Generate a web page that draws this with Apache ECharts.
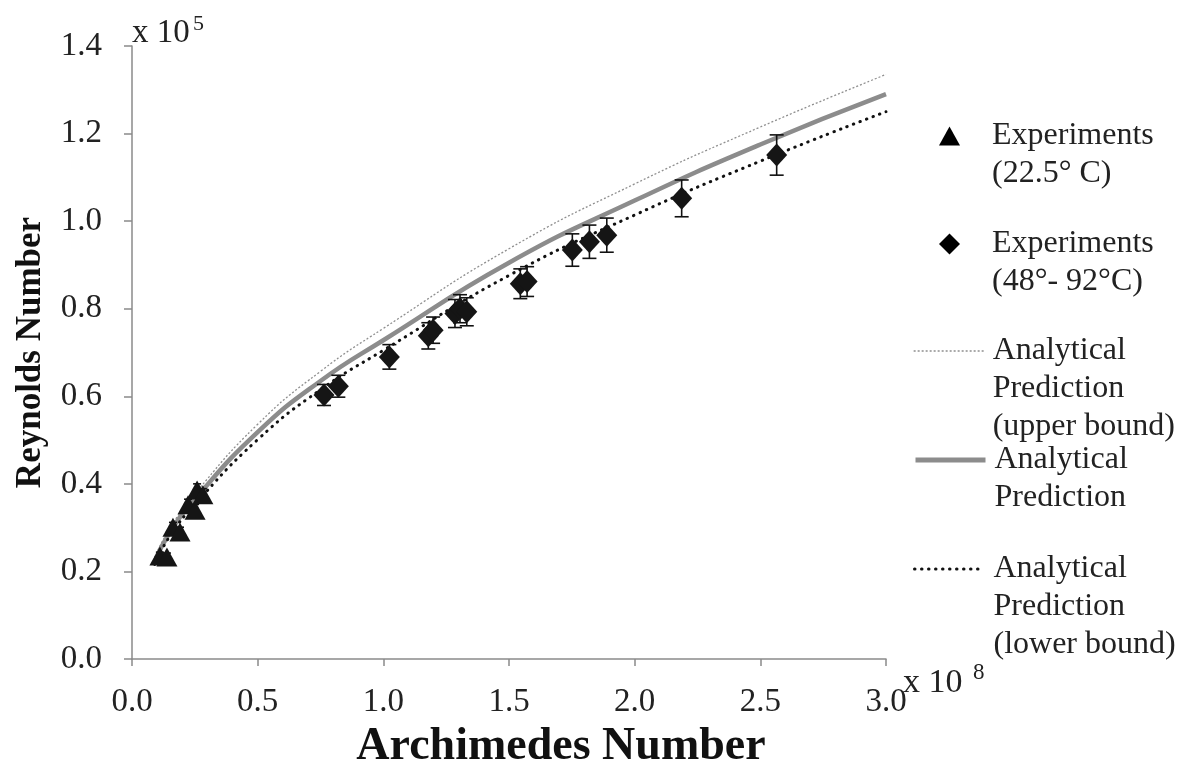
<!DOCTYPE html>
<html>
<head>
<meta charset="utf-8">
<script src="https://cdn.jsdelivr.net/npm/echarts@6/dist/echarts.min.js"></script>
<style>
  html, body { margin: 0; padding: 0; background: #fff; }
  #main { width: 1186px; height: 763px; }
</style>
</head>
<body>
<div id="main"></div>
<script>
// values (x in 1e8, y in 1e5)
var triX = [0.111, 0.139, 0.163, 0.191, 0.223, 0.251, 0.259, 0.282];
var triY = [0.235, 0.233, 0.301, 0.290, 0.352, 0.340, 0.386, 0.375];
var triErr = [0.009, 0.009, 0.011, 0.011, 0.013, 0.013, 0.014, 0.014];

var diaX = [0.764, 0.821, 1.024, 1.179, 1.198, 1.285, 1.305, 1.332, 1.545, 1.572, 1.752, 1.820, 1.889, 2.187, 2.565];
var diaY = [0.603, 0.623, 0.690, 0.738, 0.751, 0.789, 0.800, 0.793, 0.857, 0.862, 0.934, 0.953, 0.968, 1.052, 1.151];
var diaErr = [0.024, 0.025, 0.028, 0.030, 0.030, 0.032, 0.032, 0.032, 0.034, 0.034, 0.037, 0.038, 0.039, 0.042, 0.046];

var curveX = [0.09, 0.15, 0.25, 0.5, 0.75, 1.0, 1.5, 2.0, 2.5, 3.0];
var upperY = [0.232, 0.298, 0.377, 0.536, 0.657, 0.755, 0.937, 1.085, 1.215, 1.335];
var predY = [0.222, 0.289, 0.365, 0.518, 0.635, 0.728, 0.905, 1.047, 1.175, 1.290];
var lowerY = [0.216, 0.280, 0.353, 0.501, 0.615, 0.705, 0.876, 1.014, 1.137, 1.250];

var names = [
    'Experiments\n(22.5° C)',
    'Experiments\n(48°- 92°C)',
    'Analytical\nPrediction\n(upper bound)',
    'Analytical\nPrediction',
    'Analytical\nPrediction\n(lower bound)'
];

var serif = 'Liberation Serif, Times New Roman, serif';

const zip = (xs, ys) => xs.map((x, i) => [x, ys[i]]);
const errRows = (xs, ys, es) => xs.map((x, i) => [x, ys[i] - es[i], ys[i] + es[i]]);

function renderErr(capW) {
    return function (params, api) {
        var x = api.value(0);
        var top = api.coord([x, api.value(2)]);
        var bot = api.coord([x, api.value(1)]);
        var st = { stroke: '#111', lineWidth: 1.6 };
        return {
            type: 'group',
            children: [
                { type: 'line', shape: { x1: top[0], y1: top[1], x2: bot[0], y2: bot[1] }, style: st },
                { type: 'line', shape: { x1: top[0] - capW, y1: top[1], x2: top[0] + capW, y2: top[1] }, style: st },
                { type: 'line', shape: { x1: bot[0] - capW, y1: bot[1], x2: bot[0] + capW, y2: bot[1] }, style: st }
            ]
        };
    };
}

// legend: one component per entry; blank lines above the text keep the icon
// level with the first text line (the legend centres icon and text block)
var LH = 38;
function legendFor(name, iconMid, left, w, h, padLeft, lineStyle) {
    var n = name.split('\n').length;
    var total = 2 * n - 1;
    return {
        data: [name],
        left: left,
        top: iconMid - total * LH / 2,
        padding: 0,
        itemWidth: w,
        itemHeight: h,
        selectedMode: false,
        itemStyle: lineStyle ? { opacity: 0 } : undefined,
        lineStyle: lineStyle,
        formatter: nm => ' \n'.repeat(n - 1) + nm,
        textStyle: {
            fontFamily: serif,
            fontSize: 32,
            lineHeight: LH,
            color: '#222',
            padding: [0, 0, 0, padLeft]
        }
    };
}

var chartDom = document.getElementById('main');
var myChart = echarts.init(chartDom);
var option = {
    animation: false,
    backgroundColor: '#fff',
    grid: { left: 132, right: 300, top: 46, bottom: 104, outerBoundsMode: 'none', containLabel: false },
    legend: [
        legendFor(names[0], 136, 939, 21, 19, 27),
        legendFor(names[1], 244, 939, 21, 21, 27),
        legendFor(names[2], 351, 913, 70, 12, 4, { color: '#8f8f8f', width: 1.3, type: [2, 2] }),
        legendFor(names[3], 460, 913, 70, 12, 4, { color: '#8c8c8c', width: 5 }),
        legendFor(names[4], 569, 913, 70, 12, 4, { color: '#111', width: 3, type: [0.5, 6.5], cap: 'round' })
    ],
    xAxis: {
        type: 'value',
        min: 0,
        max: 3,
        interval: 0.5,
        name: 'Archimedes Number',
        nameLocation: 'middle',
        nameGap: 60,
        nameTextStyle: {
            fontFamily: serif,
            fontSize: 46,
            fontWeight: 'bold',
            color: '#111',
            padding: [0, 0, 0, 104]
        },
        axisLine: { lineStyle: { color: '#8a8a8a', width: 1.5 } },
        axisTick: { show: true, length: 7, lineStyle: { color: '#8a8a8a', width: 1.5 } },
        splitLine: { show: false },
        axisLabel: {
            margin: 27,
            fontFamily: serif,
            fontSize: 33,
            color: '#222',
            formatter: v => v.toFixed(1)
        }
    },
    yAxis: {
        type: 'value',
        min: 0,
        max: 1.4,
        interval: 0.2,
        name: 'Reynolds Number',
        nameLocation: 'middle',
        nameGap: 84,
        nameTextStyle: { fontFamily: serif, fontSize: 35, fontWeight: 'bold', color: '#111' },
        axisLine: { show: true, lineStyle: { color: '#8a8a8a', width: 1.5 } },
        axisTick: { show: true, length: 8, lineStyle: { color: '#8a8a8a', width: 1.5 } },
        splitLine: { show: false },
        axisLabel: {
            margin: 30,
            fontFamily: serif,
            fontSize: 33,
            color: '#222',
            formatter: v => v.toFixed(1)
        }
    },
    graphic: [
        { type: 'text', left: 132, top: 17, style: { text: 'x 10', font: '33px ' + serif, fill: '#222' } },
        { type: 'text', left: 193, top: 13, style: { text: '5', font: '22px ' + serif, fill: '#222' } },
        { type: 'text', left: 903, top: 666, style: { text: 'x 10', font: '34px ' + serif, fill: '#222' } },
        { type: 'text', left: 973, top: 661, style: { text: '8', font: '23px ' + serif, fill: '#222' } }
    ],
    series: [
        {
            name: names[2],
            type: 'line',
            data: zip(curveX, upperY),
            smooth: true,
            symbol: 'none',
            showSymbol: false,
            color: '#8f8f8f',
            lineStyle: { color: '#8f8f8f', width: 1.3, type: [2, 2] },
            z: 2
        },
        {
            name: names[3],
            type: 'line',
            data: zip(curveX, predY),
            smooth: true,
            symbol: 'none',
            showSymbol: false,
            color: '#8c8c8c',
            lineStyle: { color: '#8c8c8c', width: 4.5 },
            z: 3
        },
        {
            name: names[4],
            type: 'line',
            data: zip(curveX, lowerY),
            smooth: true,
            symbol: 'none',
            showSymbol: false,
            color: '#111',
            lineStyle: { color: '#111', width: 3, type: [0.5, 6.5], cap: 'round' },
            z: 3
        },
        {
            type: 'custom',
            renderItem: renderErr(4),
            data: errRows(triX, triY, triErr),
            encode: { x: 0, y: [1, 2] },
            z: 4,
            silent: true
        },
        {
            type: 'custom',
            renderItem: renderErr(7),
            data: errRows(diaX, diaY, diaErr),
            encode: { x: 0, y: [1, 2] },
            z: 4,
            silent: true
        },
        {
            name: names[0],
            type: 'scatter',
            data: zip(triX, triY),
            symbol: 'triangle',
            symbolSize: [21, 19],
            itemStyle: { color: '#151515', opacity: 1 },
            z: 5
        },
        {
            name: names[1],
            type: 'scatter',
            data: zip(diaX, diaY),
            symbol: 'diamond',
            symbolSize: [21, 23],
            itemStyle: { color: '#151515', opacity: 1 },
            z: 5
        }
    ]
};
myChart.setOption(option);
</script>
</body>
</html>
